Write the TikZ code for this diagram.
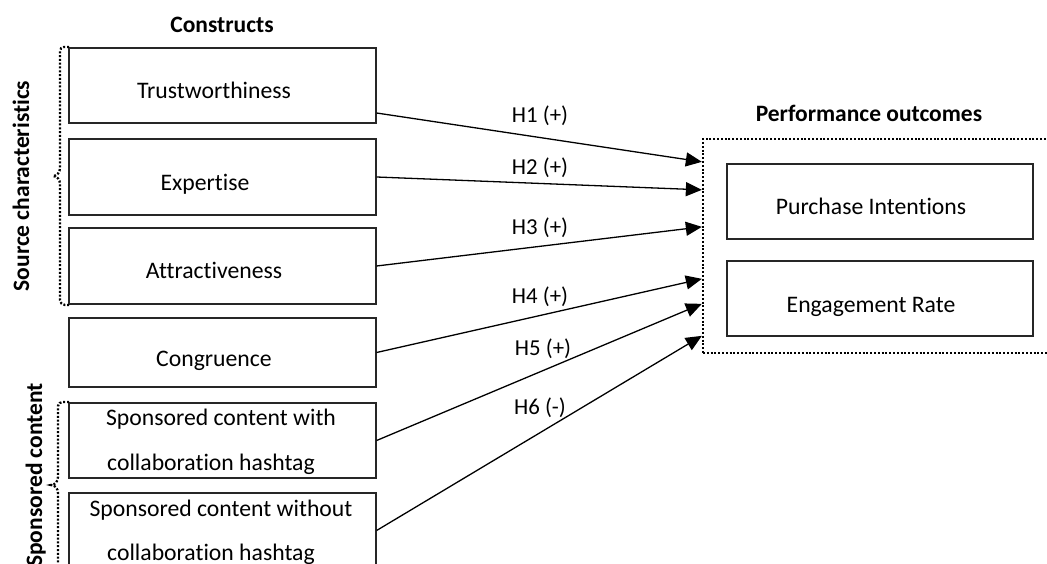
\documentclass[tikz,border=0pt]{standalone}
\usepackage{fontspec}
\setmainfont{Carlito}[Ligatures={NoCommon,NoContextual}]
\usetikzlibrary{fit,arrows.meta}
\begin{document}
\begin{tikzpicture}[x=1pt,y=-1pt,
  box/.style={draw=black!85,line width=1.2pt,inner sep=0pt,fill=none},
  lbl/.style={anchor=base,inner sep=0pt,font=\fontsize{23.7}{28}\selectfont},
  hd/.style={anchor=base,inner sep=0pt,font=\fontsize{23.5}{28}\selectfont\bfseries},
  dots/.style={line width=2.3pt,dash pattern=on 2pt off 1.8pt},
  arr/.style={line width=1.3pt,-{Triangle[length=16pt,width=14pt]}},
  hyp/.style={anchor=base,inner sep=0pt,font=\fontsize{22.8}{28}\selectfont}]
\useasboundingbox (0,0) rectangle (1047,564);
\clip (0,0) rectangle (1047,564);
\fill[white] (0,0) rectangle (1047,564);
% headings
\node[hd] (hcon) at (222,33) {Constructs};
\node[hd] (hperf) at (869,122) {Performance outcomes};
\node[hd,rotate=90] (hsrc) at (29,186) {Source characteristics};
\node[hd,rotate=90] (hspo) at (42,475) {Sponsored content};
% left boxes
\node[box,fit={(69,48)(376,123)}] (trust) {};
\node[lbl] (trustT) at (214,99) {Trustworthiness};
\node[box,fit={(69,139)(376,215)}] (exp) {};
\node[lbl] (expT) at (205,191) {Expertise};
\node[box,fit={(69,228)(376,304)}] (attr) {};
\node[lbl] (attrT) at (214,279) {Attractiveness};
\node[box,fit={(69,318)(376,387)}] (cong) {};
\node[lbl] (congT) at (214,366) {Congruence};
\node[box,fit={(69,403)(376,478)}] (sw) {};
\node[lbl] (swA) at (221,425) {Sponsored content with};
\node[lbl] (swB) at (211,470) {collaboration hashtag};
\node[box,fit={(69,493)(376,568)}] (swo) {};
\node[lbl] (swoA) at (221,516) {Sponsored content without};
\node[lbl] (swoB) at (211,560) {collaboration hashtag};
% right
\node[dots,draw,inner sep=0pt,fit={(703,139)(1060,353)}] (po) {};
\node[box,fit={(727,164)(1033,239)}] (pi) {};
\node[lbl] (piT) at (871,215) {Purchase Intentions};
\node[box,fit={(727,261)(1033,336)}] (er) {};
\node[lbl] (erT) at (871,312) {Engagement Rate};
% braces
\draw[dots] (69,47) -- (64,47) to[out=180,in=90] (60,51) -- (60,168)
  to[out=-90,in=0] (53,176) to[out=0,in=90] (60,184) -- (60,300)
  to[out=-90,in=180] (65,305) -- (69,305);
\draw[dots] (69,402) -- (63,402) to[out=180,in=90] (58,406) -- (58,477)
  to[out=-90,in=0] (51,485) to[out=0,in=90] (58,493) -- (58,570);
% arrows
\draw[arr] ([yshift=-27.5pt]trust.east) -- ([yshift=-24pt]po.north west);
\draw[arr] (exp.east) -- ([yshift=-52pt]po.north west);
\draw[arr] (attr.east) -- ([yshift=-89pt]po.north west);
\draw[arr] (cong.east) -- ([yshift=-141pt]po.north west);
\draw[arr] (sw.east) -- ([yshift=-166pt]po.north west);
\draw[arr] (swo.east) -- ([yshift=-198pt]po.north west);
% hypothesis labels
\node[hyp] (h1) at (540,123) {H1 (+)};
\node[hyp] (h2) at (540,175) {H2 (+)};
\node[hyp] (h3) at (540,235) {H3 (+)};
\node[hyp] (h4) at (540,303) {H4 (+)};
\node[hyp] (h5) at (543,355) {H5 (+)};
\node[hyp] (h6) at (540,414) {H6 (-)};
\end{tikzpicture}
\end{document}
